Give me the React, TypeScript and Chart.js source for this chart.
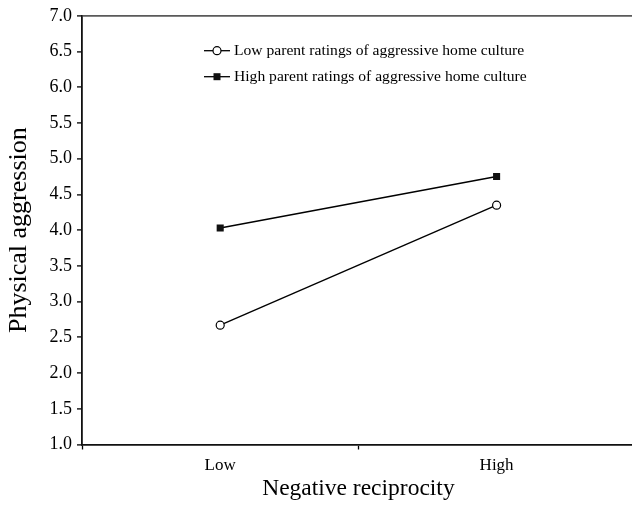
import React, { useEffect, useRef } from "react";
import { Chart, registerables } from "chart.js";

Chart.register(...registerables);

const categories = ["Low", "High"];
const lowParentSeries = [2.67, 4.35];
const highParentSeries = [4.03, 4.75];
const seriesLabels = [
  "Low parent ratings of aggressive home culture",
  "High parent ratings of aggressive home culture",
];
const yTitle = "Physical aggression";
const xTitle = "Negative reciprocity";
const yMin = 1;
const yMax = 7;
const yStep = 0.5;

const FONT = "'Liberation Serif', 'Times New Roman', serif";

const legendPlugin = {
  id: "insideLegend",
  afterDraw(chart: any) {
    const ctx = chart.ctx;
    const x0 = 204;
    const rows = [50.7, 76.7];
    chart.data.datasets.forEach((ds: any, i: number) => {
      const y = rows[i];
      ctx.save();
      ctx.strokeStyle = "#000";
      ctx.lineWidth = 1.3;
      ctx.beginPath();
      ctx.moveTo(x0, y);
      ctx.lineTo(x0 + 26, y);
      ctx.stroke();
      if (ds.pointStyle === "rect") {
        ctx.fillStyle = "#111";
        ctx.fillRect(x0 + 13 - 3.5, y - 3.5, 7, 7);
      } else {
        ctx.beginPath();
        ctx.arc(x0 + 13, y, 4, 0, Math.PI * 2);
        ctx.fillStyle = "#fff";
        ctx.fill();
        ctx.lineWidth = 1.2;
        ctx.stroke();
      }
      ctx.fillStyle = "#000";
      ctx.font = `15.6px ${FONT}`;
      ctx.textBaseline = "middle";
      ctx.textAlign = "left";
      ctx.fillText(ds.label, x0 + 30, y + 0.5);
      ctx.restore();
    });
  },
};

export default function App() {
  const ref = useRef<HTMLCanvasElement | null>(null);
  useEffect(() => {
    if (!ref.current) return;
    const chart = new Chart(ref.current, {
      type: "line",
      data: {
        labels: categories,
        datasets: [
          {
            label: seriesLabels[0],
            data: lowParentSeries,
            borderColor: "#000",
            borderWidth: 1.4,
            pointStyle: "circle",
            pointRadius: 4,
            pointBorderWidth: 1.2,
            pointBackgroundColor: "#fff",
            pointBorderColor: "#000",
          },
          {
            label: seriesLabels[1],
            data: highParentSeries,
            borderColor: "#000",
            borderWidth: 1.4,
            pointStyle: "rect",
            pointRadius: 5,
            pointBorderWidth: 0,
            pointBackgroundColor: "#111",
            pointBorderColor: "#111",
          },
        ],
      },
      options: {
        animation: false,
        responsive: false,
        maintainAspectRatio: false,
        layout: { padding: { left: 4, right: 2, top: 15, bottom: 0 } },
        plugins: {
          legend: { display: false },
          tooltip: { enabled: false },
        },
        scales: {
          x: {
            type: "category",
            offset: true,
            grid: {
              offset: true,
              drawOnChartArea: false,
              drawTicks: true,
              tickLength: 5,
              tickColor: "#000",
              tickWidth: 1.3,
            },
            border: { color: "#111", width: 1.8 },
            ticks: {
              color: "#000",
              font: { family: FONT, size: 17 },
              padding: 6,
            },
            title: {
              display: true,
              text: xTitle,
              color: "#000",
              font: { family: FONT, size: 23.5 },
              padding: { top: 2, bottom: 8 },
            },
            afterFit: (s: any) => {
              s.height = 66.5;
            },
          },
          y: {
            min: yMin,
            max: yMax,
            grid: {
              drawOnChartArea: true,
              color: (c: any) =>
                c.tick && c.tick.value === yMax ? "#5a5a5a" : "rgba(0,0,0,0)",
              lineWidth: 1.8,
              drawTicks: true,
              tickLength: 5,
              tickColor: "#000",
              tickWidth: 1.3,
            },
            border: { color: "#111", width: 1.8 },
            ticks: {
              stepSize: yStep,
              color: "#000",
              font: { family: FONT, size: 18 },
              padding: 5,
              callback: (v: any) => Number(v).toFixed(1),
            },
            title: {
              display: true,
              text: yTitle,
              color: "#000",
              font: { family: FONT, size: 26 },
              padding: { top: 0, bottom: 4 },
            },
            afterFit: (s: any) => {
              s.width = 78;
            },
          },
        },
      },
      plugins: [legendPlugin],
    });
    return () => chart.destroy();
  }, []);
  return (
    <div
      style={{
        position: "absolute",
        left: 0,
        top: 0,
        width: 632,
        height: 511,
        overflow: "hidden",
        background: "#fff",
      }}
    >
      <canvas ref={ref} width={640} height={511} style={{ display: "block" }} />
    </div>
  );
}
